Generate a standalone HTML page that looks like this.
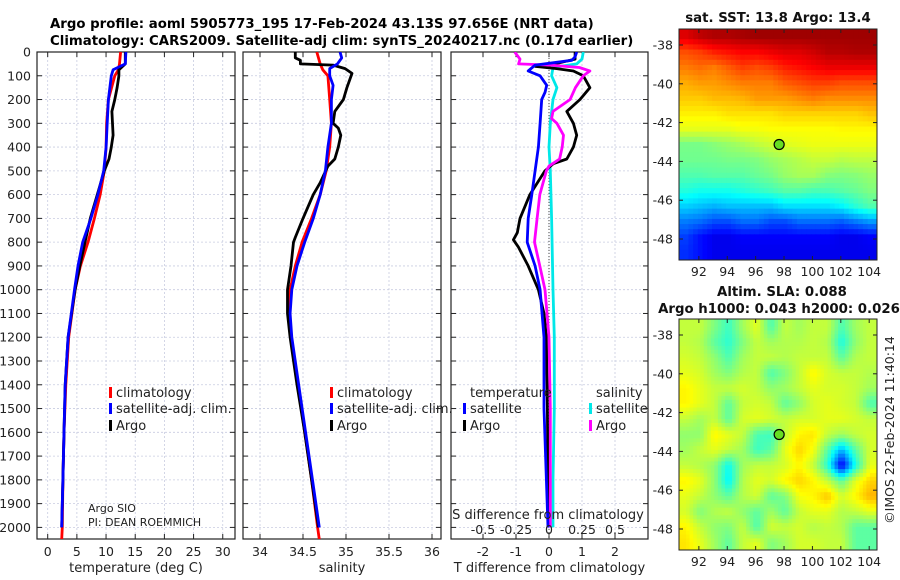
<!DOCTYPE html>
<html><head><meta charset="utf-8">
<style>
html,body{margin:0;padding:0;background:#fff;}
svg{display:block;font-family:"DejaVu Sans","Liberation Sans",sans-serif;}
</style></head>
<body>
<svg id="fig" width="900" height="580" viewBox="0 0 900 580" xmlns="http://www.w3.org/2000/svg">
<rect width="900" height="580" fill="#fff"/>
<text x="50" y="28" font-size="13.3" font-weight="bold">Argo profile: aoml 5905773_195 17-Feb-2024 43.13S 97.656E (NRT data)</text>
<text x="50" y="45" font-size="13.3" font-weight="bold">Climatology: CARS2009. Satellite-adj clim: synTS_20240217.nc (0.17d earlier)</text>
<g id="g"></g>
</svg>
<script>
// ---- profile data ----
const depthTicks = [0,100,200,300,400,500,600,700,800,900,1000,1100,1200,1300,1400,1500,1600,1700,1800,1900,2000];
const tTicks = [0,5,10,15,20,25,30];
const sTicks = [34,34.5,35,35.5,36];
const dTicks = [-2,-1,0,1,2];
const sdTickLabels = ["-0.5","-0.25","0","0.25","0.5"];

const tDepthClim = [0,50,75,100,200,300,400,500,600,700,800,900,1000,1200,1400,1600,1800,2000,2050];
const tClim = [12.5,12.3,12.1,11.5,10.4,10.1,10,9.7,9,8,6.9,5.6,4.7,3.6,3.1,2.8,2.6,2.5,2.4];
const tDepthSat = [0,50,75,100,200,300,400,500,600,700,800,900,1000,1200,1400,1600,1800,2000];
const tSat = [13.4,13.3,11.2,10.9,10.4,10.2,10,9.6,8.6,7.4,6,5.2,4.6,3.5,3.0,2.8,2.6,2.4];
const tDepthArgo = [0,50,75,100,150,200,250,300,350,400,450,500,600,700,800,900,1000,1200,1400,1600,1800,2000];
const tArgo = [13.3,13.3,12.2,12.2,11.9,11.5,11,11.1,11.2,10.9,10.5,9.7,8.5,7.3,6.4,5.5,4.7,3.5,3.0,2.8,2.6,2.4];

const sDepthClim = [0,50,75,100,200,300,400,500,600,700,800,900,1000,1100,1200,1400,1600,1800,2000,2050];
const sClim = [34.66,34.70,34.73,34.79,34.81,34.83,34.81,34.77,34.70,34.60,34.49,34.41,34.35,34.34,34.36,34.44,34.52,34.60,34.67,34.69];
const sDepthSat = [0,25,50,70,100,140,200,300,400,500,600,700,800,900,1000,1100,1200,1400,1600,1800,2000];
const sSat = [34.93,34.95,34.90,34.81,34.81,34.85,34.83,34.83,34.79,34.76,34.70,34.62,34.52,34.43,34.37,34.35,34.37,34.45,34.53,34.61,34.69];
const sDepthArgo = [0,25,35,50,55,70,90,150,200,250,300,320,350,400,450,480,550,600,700,780,800,900,1000,1100,1200,1400,1600,1800,2000];
const sArgo = [34.41,34.41,34.47,34.47,34.85,34.99,35.07,35.01,34.97,34.87,34.85,34.91,34.94,34.91,34.87,34.79,34.70,34.62,34.50,34.41,34.39,34.36,34.32,34.32,34.35,34.43,34.52,34.60,34.68];

const dDepthTSat = [0,20,35,55,80,100,140,170,200,300,400,500,600,700,800,900,1000,1200,1500,1800,2000];
const dTSat = [0.84,0.79,0.69,-0.42,-0.63,-0.27,-0.07,-0.12,-0.22,-0.27,-0.32,-0.42,-0.52,-0.63,-0.66,-0.42,-0.27,-0.15,-0.15,-0.08,-0.03];
const dDepthTArgo = [0,30,45,60,70,80,100,150,200,250,300,350,400,450,470,500,600,700,760,790,820,900,1000,1100,1200,1500,1800,2000];
const dTArgo = [0.79,0.79,0.33,-0.42,0.23,0.74,1.04,1.24,0.94,0.54,0.74,0.84,0.74,0.54,0.13,-0.12,-0.58,-0.88,-0.96,-1.08,-0.93,-0.63,-0.32,-0.15,-0.08,-0.05,-0.03,0];
const dDepthSSat = [0,30,50,65,100,150,200,300,400,500,700,1000,1200,1500,1800,2000];
const dSSat = [0.26,0.25,0.21,0.03,0.02,0.06,0.03,0.01,0.0,0.01,0.02,0.03,0.04,0.04,0.03,0.03];
const dDepthSArgo = [0,30,50,55,65,80,100,150,200,250,280,300,350,400,450,480,500,600,700,800,900,1000,1200,1500,2000];
const dSArgo = [-0.26,-0.22,-0.23,0.01,0.23,0.31,0.26,0.20,0.16,0.03,0.02,0.06,0.11,0.10,0.08,0.0,-0.02,-0.07,-0.09,-0.11,-0.07,-0.03,0.0,0.01,0.01];

// ---- map data ----
const mapLatTicks = [-38,-40,-42,-44,-46,-48];
const mapLonTicks = [92,94,96,98,100,102,104];
const argoLon = 97.656, argoLat = -43.13;
const sstGrid = [
[18.8,19.2,19.4,19.4,19.5,19.6,19.6,19.6,19.6,19.6,19.6,19.6,19.6,19.6],
[17.4,17.6,18,18.2,18.4,18.4,18.6,18.8,18.8,19,19.3,19.3,19.4,19.4],
[16.8,17,16.8,17.2,17.6,17.4,17.6,18,18.2,18.4,18.6,18.6,18.6,18.6],
[16.2,16.4,16.4,16.6,16.8,16.8,16.8,17.2,17.4,17.6,17.6,17.4,17.4,17.4],
[15.8,15.8,16,16,16.1,16.4,16.4,16.4,16.6,16.8,16.6,16.6,16.6,16.6],
[15.3,15.3,15.3,15.5,15.5,15.5,15.5,15.7,15.7,15.7,15.7,15.7,15.7,15.9],
[14.8,14.8,14.8,14.8,15,15,15.1,15.1,15.1,15.1,15.1,15.2,15.2,15.2],
[13.4,13.4,13.6,13.8,14,14.3,14.5,14.7,14.8,14.9,14.9,14.9,14.9,14.9],
[13.3,13.3,13.3,13.4,13.4,13.5,13.8,14,14.2,14.4,14.4,14.2,14.3,14.3],
[12.9,12.9,13,13,13,13.2,13.4,13.8,14,14,13.6,13.5,13.6,13.8],
[12.3,12.1,12.1,12.1,12.3,12.5,12.7,13,13,12.8,12.8,13,13.2,13.5],
[11.3,11.1,10.9,11.1,11.1,11.1,11.1,11.5,11.5,11.5,11.5,11.8,12.4,12.9],
[10.2,10,9.6,9.6,10,10,9.6,9.6,10,10,10,9.8,10.2,10.6],
[9.4,8.8,8.4,8.4,8.6,8.6,8.6,8.6,8.6,8.6,8.6,8.4,8.4,8.6],
[9.2,8.8,8.4,8.4,8.4,8.4,8.4,8.4,8.4,8.4,8.4,8.4,8.4,8.4]];
const slaGrid = [
[.06,.06,.02,-.02,.04,.08,-.01,.06,.04,.06,.06,-.01,.04,.06],
[.06,.05,.0,-.03,.02,.06,.04,.05,.05,.06,.05,-.04,.03,.06],
[.07,.06,.03,-.01,.04,.06,.06,.05,.06,.06,.06,.0,.05,.06],
[.08,.07,.04,.02,.05,.06,-.01,.02,.06,.1,.07,.06,.06,.05],
[.1,.08,.06,.06,.07,.06,.03,.04,.06,.08,.07,.07,.06,.04],
[.1,.08,.06,.0,.06,.07,.06,.0,.03,.07,.08,.07,.06,-.01],
[.06,.04,.06,.0,.07,.08,.07,.06,.07,.07,.08,.08,.07,.06],
[.03,.03,.1,.08,.06,-.01,-.02,.06,.1,.11,.06,.04,.06,.07],
[.04,.06,.08,.06,.04,-.02,.0,.08,.12,.09,.0,-.1,.0,.07],
[.06,.05,.03,-.05,.04,.06,.06,.07,.1,.06,-.03,-.22,-.04,.08],
[.1,.08,.03,-.06,.05,.08,.07,.1,.12,.1,.06,.0,.08,.12],
[.08,.06,.03,.0,.05,.07,.0,.02,.09,.1,.13,.07,.1,.14],
[.07,.02,.05,.06,.03,.0,.04,.0,.06,.08,.08,.05,.06,.08],
[.1,.06,.03,.02,.06,-.01,.07,.06,.07,.05,.06,.05,.0,.0],
[.11,.08,.04,.0,.06,.08,.02,.04,.07,.07,.06,.06,.0,.0]];

const NS="http://www.w3.org/2000/svg";
const G=document.getElementById('g');
function mk(tag,attrs,parent,text){const e=document.createElementNS(NS,tag);for(const k in attrs)e.setAttribute(k,attrs[k]);if(text!==undefined)e.textContent=text;(parent||G).appendChild(e);return e;}

const TOP=52, BOT=539;
function yD(d){return TOP+d*0.2377;}
const panels=[
 {name:'temperature-panel',x0:37,x1:235,xv:v=>47.7+v*5.835,ticks:tTicks,lab:v=>String(v),xlabel:'temperature (deg C)'},
 {name:'salinity-panel',x0:243,x1:441,xv:v=>260+(v-34)*86,ticks:sTicks,lab:v=>String(v),xlabel:'salinity'},
 {name:'difference-panel',x0:451,x1:648,xv:v=>549+v*33,ticks:dTicks,lab:v=>String(v),xlabel:'T difference from climatology'}
];
panels.forEach((p,i)=>{
  const g=mk('g',{});
  
  
  const cp=mk('clipPath',{id:'cp'+i},g);mk('rect',{x:p.x0,y:TOP,width:p.x1-p.x0,height:BOT-TOP},cp);
  depthTicks.forEach(d=>{
    mk('line',{x1:p.x0,x2:p.x1,y1:yD(d),y2:yD(d),stroke:'#c8cce0','stroke-width':0.8,'stroke-dasharray':'2,2'},g);
    mk('line',{x1:p.x0,x2:p.x0+5,y1:yD(d),y2:yD(d),stroke:'#222'},g);
    mk('line',{x1:p.x1-5,x2:p.x1,y1:yD(d),y2:yD(d),stroke:'#222'},g);
  });
  p.ticks.forEach((v,j)=>{
    const x=p.xv(v);
    mk('line',{x1:x,x2:x,y1:TOP,y2:BOT,stroke:'#c8cce0','stroke-width':0.8,'stroke-dasharray':'2,2'},g);
    mk('line',{x1:x,x2:x,y1:BOT-5,y2:BOT,stroke:'#222'},g);
    mk('line',{x1:x,x2:x,y1:TOP,y2:TOP+5,stroke:'#222'},g);
    const t=mk('text',{x:x,y:556,'font-size':12.5,'text-anchor':'middle',fill:'#222'},g,p.lab(v));
    
    
  });
  mk('rect',{x:p.x0,y:TOP,width:p.x1-p.x0,height:BOT-TOP,fill:'none',stroke:'#222','stroke-width':1.2},g);
  const xl=mk('text',{x:(p.x0+p.x1)/2,y:572,'font-size':13,'text-anchor':'middle',fill:'#222'},g,p.xlabel);
  
  
  p.g=g;
});
depthTicks.forEach(d=>{
  const t=mk('text',{x:31,y:yD(d)+4.5,'font-size':12.5,'text-anchor':'end',fill:'#222'},G,String(d));
  
  
});
mk('line',{x1:549,x2:549,y1:TOP,y2:BOT,stroke:'#444','stroke-width':1,'stroke-dasharray':'1,2'},panels[2].g);

function series(pi,depths,vals,color,name,xf){
  const p=panels[pi];const f=xf||p.xv;
  const pts=depths.map((d,k)=>f(vals[k]).toFixed(1)+','+yD(d).toFixed(1)).join(' ');
  const l=mk('polyline',{points:pts,fill:'none',stroke:color,'stroke-width':2.8,'stroke-linejoin':'round','clip-path':'url(#cp'+pi+')'},p.g);
  
  
}
series(0,tDepthClim,tClim,'#ff0000','temperature-climatology-line');
series(0,tDepthArgo,tArgo,'#000000','temperature-argo-line');
series(0,tDepthSat,tSat,'#0000ff','temperature-satellite-line');
series(1,sDepthClim,sClim,'#ff0000','salinity-climatology-line');
series(1,sDepthArgo,sArgo,'#000000','salinity-argo-line');
series(1,sDepthSat,sSat,'#0000ff','salinity-satellite-line');
const sdx=v=>549+v*132;
series(2,dDepthSSat,dSSat,'#00e8e8','s-diff-satellite-line',sdx);
series(2,dDepthTArgo,dTArgo,'#000000','t-diff-argo-line');
series(2,dDepthSArgo,dSArgo,'#ff00ff','s-diff-argo-line',sdx);
series(2,dDepthTSat,dTSat,'#0000ff','t-diff-satellite-line');

function legendItem(x,y,color,label,name){
  const g=mk('g',{});
  
  
  if(color) mk('rect',{x:x,y:y-10,width:3,height:11,fill:color},g);
  mk('text',{x:x+7,y:y,'font-size':13,fill:'#222'},g,label);
}
legendItem(109,397,'#ff0000','climatology','legend-climatology');
legendItem(109,413,'#0000ff','satellite-adj. clim.','legend-satellite');
legendItem(109,430,'#000000','Argo','legend-argo');
legendItem(330,397,'#ff0000','climatology','legend-climatology-2');
legendItem(330,413,'#0000ff','satellite-adj. clim.','legend-satellite-2');
legendItem(330,430,'#000000','Argo','legend-argo-2');
legendItem(463,397,null,'temperature','legend-temperature-header');
legendItem(463,413,'#0000ff','satellite','legend-t-satellite');
legendItem(463,430,'#000000','Argo','legend-t-argo');
legendItem(589,397,null,'salinity','legend-salinity-header');
legendItem(589,413,'#00e8e8','satellite','legend-s-satellite');
legendItem(589,430,'#ff00ff','Argo','legend-s-argo');

let t=mk('text',{x:88,y:512,'font-size':11,fill:'#222'},G,'Argo SIO');

t=mk('text',{x:88,y:526,'font-size':11,fill:'#222'},G,'PI: DEAN ROEMMICH');

t=mk('text',{x:548,y:519,'font-size':13,'text-anchor':'middle',fill:'#222'},G,'S difference from climatology');

dTicks.forEach((v,j)=>{
  const tt=mk('text',{x:549+v*33,y:534,'font-size':12.5,'text-anchor':'middle',fill:'#222'},G,sdTickLabels[j]);
  
  
});

// ---- maps ----
function jet(tv){tv=Math.max(0,Math.min(1,tv));const c=v=>Math.round(255*Math.max(0,Math.min(1,v)));
  return 'rgb('+c(1.5-Math.abs(4*tv-3))+','+c(1.5-Math.abs(4*tv-2))+','+c(1.5-Math.abs(4*tv-1))+')';}
const MX0=679,MX1=877,LON0=90.6,LON1=104.55;
function lonX(l){return MX0+(l-LON0)*(MX1-MX0)/(LON1-LON0);}
function sample(grid,fr,fc){
  const R=grid.length,C=grid[0].length;
  fr=Math.max(0,Math.min(R-1,fr));fc=Math.max(0,Math.min(C-1,fc));
  const r0=Math.floor(fr),c0=Math.floor(fc),r1=Math.min(R-1,r0+1),c1=Math.min(C-1,c0+1);
  const a=fr-r0,b=fc-c0;
  return (grid[r0][c0]*(1-b)+grid[r0][c1]*b)*(1-a)+(grid[r1][c0]*(1-b)+grid[r1][c1]*b)*a;
}
function drawMap(name,y0,y1,grid,vmin,vmax,sub){
  const g=mk('g',{});
  
  
  const latY=l=>y0+16+(-38-l)*19.4;
  const rows=grid.length,cols=grid[0].length;
  const NR=rows*sub,NC=cols*sub;
  const cw=(MX1-MX0)/NC,ch=(y1-y0)/NR;
  for(let r=0;r<NR;r++)for(let c=0;c<NC;c++){
    const v=sample(grid,(r+0.5)/sub-0.5,(c+0.5)/sub-0.5);
    const cell=mk('rect',{x:(MX0+c*cw).toFixed(2),y:(y0+r*ch).toFixed(2),width:(cw+0.5).toFixed(2),height:(ch+0.5).toFixed(2),fill:jet((v-vmin)/(vmax-vmin))},g);
    
    
  }
  mk('rect',{x:MX0,y:y0,width:MX1-MX0,height:y1-y0,fill:'none',stroke:'#222','stroke-width':1},g);
  mapLatTicks.forEach(l=>{const y=latY(l);
    mk('line',{x1:MX0,x2:MX0+4,y1:y,y2:y,stroke:'#222'},g);
    mk('line',{x1:MX1-4,x2:MX1,y1:y,y2:y,stroke:'#222'},g);
    const tt=mk('text',{x:673,y:y+4.5,'font-size':12.5,'text-anchor':'end',fill:'#222'},g,String(l));
    });
  mapLonTicks.forEach(l=>{const x=lonX(l);
    mk('line',{x1:x,x2:x,y1:y1-4,y2:y1,stroke:'#222'},g);
    mk('line',{x1:x,x2:x,y1:y0,y2:y0+4,stroke:'#222'},g);
    const tt=mk('text',{x:x,y:y1+16,'font-size':12.5,'text-anchor':'middle',fill:'#222'},g,String(l));
    });
  const m=mk('circle',{cx:lonX(argoLon),cy:latY(argoLat),r:5,fill:'#66dd22',stroke:'#000','stroke-width':1.2},g);
  
  
}
drawMap('sst-map',29,260,sstGrid,7,20,3);
drawMap('sla-map',319,550,slaGrid,-0.28,0.32,4);
t=mk('text',{x:778,y:22,'font-size':13.3,'font-weight':'bold','text-anchor':'middle',fill:'#111'},G,'sat. SST: 13.8 Argo: 13.4');

t=mk('text',{x:782,y:296,'font-size':13.3,'font-weight':'bold','text-anchor':'middle',fill:'#111'},G,'Altim. SLA: 0.088');

t=mk('text',{x:779,y:313,'font-size':13.3,'font-weight':'bold','text-anchor':'middle',fill:'#111'},G,'Argo h1000: 0.043 h2000: 0.026');

t=mk('text',{x:894,y:430,'font-size':12.5,'text-anchor':'middle',fill:'#222',transform:'rotate(-90 894 430)'},G,'©IMOS 22-Feb-2024 11:40:14');

</script>
</body></html>
